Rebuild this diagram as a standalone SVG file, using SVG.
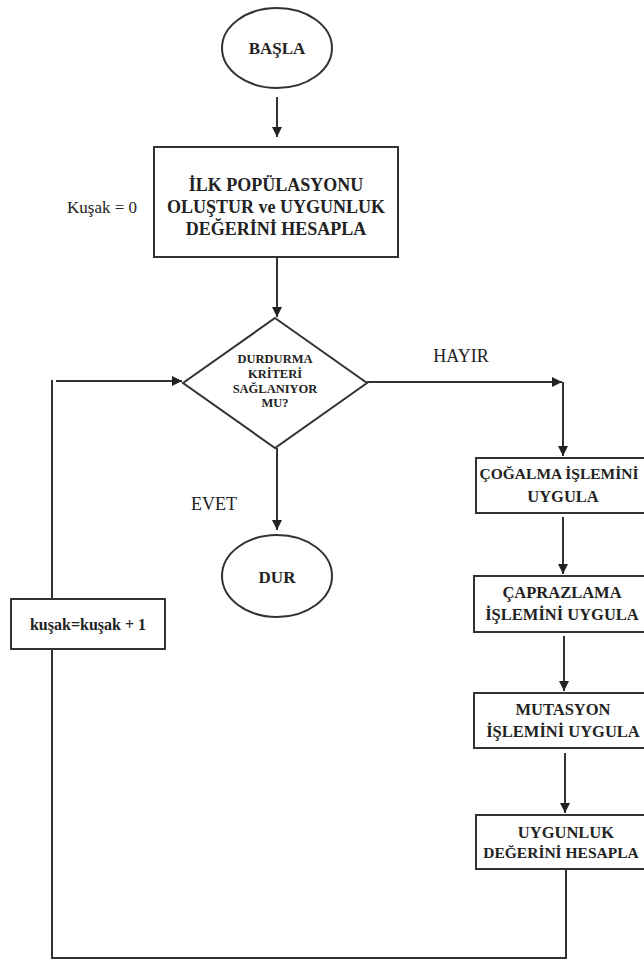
<svg xmlns="http://www.w3.org/2000/svg" width="644" height="963" viewBox="0 0 644 963">
<style>
.shape{fill:#fff;stroke:#333;stroke-width:2}
.conn{fill:none;stroke:#333;stroke-width:2}
.t{font-family:"Liberation Serif","Times New Roman","DejaVu Serif",serif;fill:#222;text-anchor:middle}
.b{font-weight:bold}
</style>
<defs>
<marker id="arr" viewBox="0 0 10 10" refX="10" refY="5" markerWidth="5" markerHeight="5" orient="auto" markerUnits="strokeWidth">
<path d="M0,0 L10,5 L0,10 z" fill="#222"/>
</marker>
</defs>
<rect width="644" height="963" fill="#fff"/>
<g id="connectors">
<line class="conn" x1="277" y1="97" x2="277" y2="137" marker-end="url(#arr)"/>
<line class="conn" x1="277" y1="258" x2="277" y2="317" marker-end="url(#arr)"/>
<line class="conn" x1="277" y1="448" x2="277" y2="530" marker-end="url(#arr)"/>
<line class="conn" x1="367" y1="382" x2="562" y2="382" marker-end="url(#arr)"/>
<line class="conn" x1="563" y1="382" x2="563" y2="456" marker-end="url(#arr)"/>
<line class="conn" x1="563" y1="517" x2="563" y2="574" marker-end="url(#arr)"/>
<line class="conn" x1="564" y1="636" x2="564" y2="691" marker-end="url(#arr)"/>
<line class="conn" x1="565" y1="753" x2="565" y2="813" marker-end="url(#arr)"/>
<path class="conn" d="M566,869 V958 H52 V380"/>
<line class="conn" x1="56" y1="381" x2="182" y2="381" marker-end="url(#arr)"/>
</g>
<g id="basla">
<ellipse class="shape" cx="277" cy="48" rx="55" ry="40"/>
<text class="t b" x="277" y="54" font-size="17">BAŞLA</text>
</g>
<g id="ilk-populasyon">
<rect class="shape" x="154" y="147" width="244" height="110"/>
<text class="t b" x="276" y="191" font-size="18">İLK POPÜLASYONU</text>
<text class="t b" x="276" y="213" font-size="18">OLUŞTUR ve UYGUNLUK</text>
<text class="t b" x="276" y="235" font-size="18">DEĞERİNİ HESAPLA</text>
</g>
<g id="kusak0">
<text class="t" x="102" y="213" font-size="17">Kuşak = 0</text>
</g>
<g id="durdurma">
<polygon class="shape" points="275,318 367,383 275,448 183,383"/>
<text class="t b" x="275" y="363" font-size="12.5">DURDURMA</text>
<text class="t b" x="275" y="378" font-size="12.5">KRİTERİ</text>
<text class="t b" x="275" y="393" font-size="12.5">SAĞLANIYOR</text>
<text class="t b" x="275" y="407" font-size="12.5">MU?</text>
</g>
<g id="hayir-label">
<text class="t" x="461" y="362" font-size="18">HAYIR</text>
</g>
<g id="evet-label">
<text class="t" x="214" y="510" font-size="18">EVET</text>
</g>
<g id="dur">
<ellipse class="shape" cx="277" cy="576" rx="55" ry="41"/>
<text class="t b" x="277" y="583" font-size="17">DUR</text>
</g>
<g id="kusak-arttir">
<rect class="shape" x="11" y="599" width="154" height="50"/>
<text class="t b" x="88" y="630" font-size="16">kuşak=kuşak + 1</text>
</g>
<g id="cogalma">
<rect class="shape" x="476" y="458" width="180" height="55"/>
<text class="t b" x="559" y="479" font-size="15.5">ÇOĞALMA İŞLEMİNİ</text>
<text class="t b" x="563" y="502" font-size="16.5">UYGULA</text>
</g>
<g id="caprazlama">
<rect class="shape" x="474" y="576" width="180" height="56"/>
<text class="t b" x="562" y="598" font-size="16.5">ÇAPRAZLAMA</text>
<text class="t b" x="562" y="620" font-size="16.5">İŞLEMİNİ UYGULA</text>
</g>
<g id="mutasyon">
<rect class="shape" x="474" y="693" width="180" height="55"/>
<text class="t b" x="563" y="715" font-size="16.5">MUTASYON</text>
<text class="t b" x="563" y="737" font-size="16.5">İŞLEMİNİ UYGULA</text>
</g>
<g id="uygunluk">
<rect class="shape" x="476" y="815" width="180" height="54"/>
<text class="t b" x="566" y="838" font-size="16.5">UYGUNLUK</text>
<text class="t b" x="561" y="858" font-size="15.5">DEĞERİNİ HESAPLA</text>
</g>
</svg>
